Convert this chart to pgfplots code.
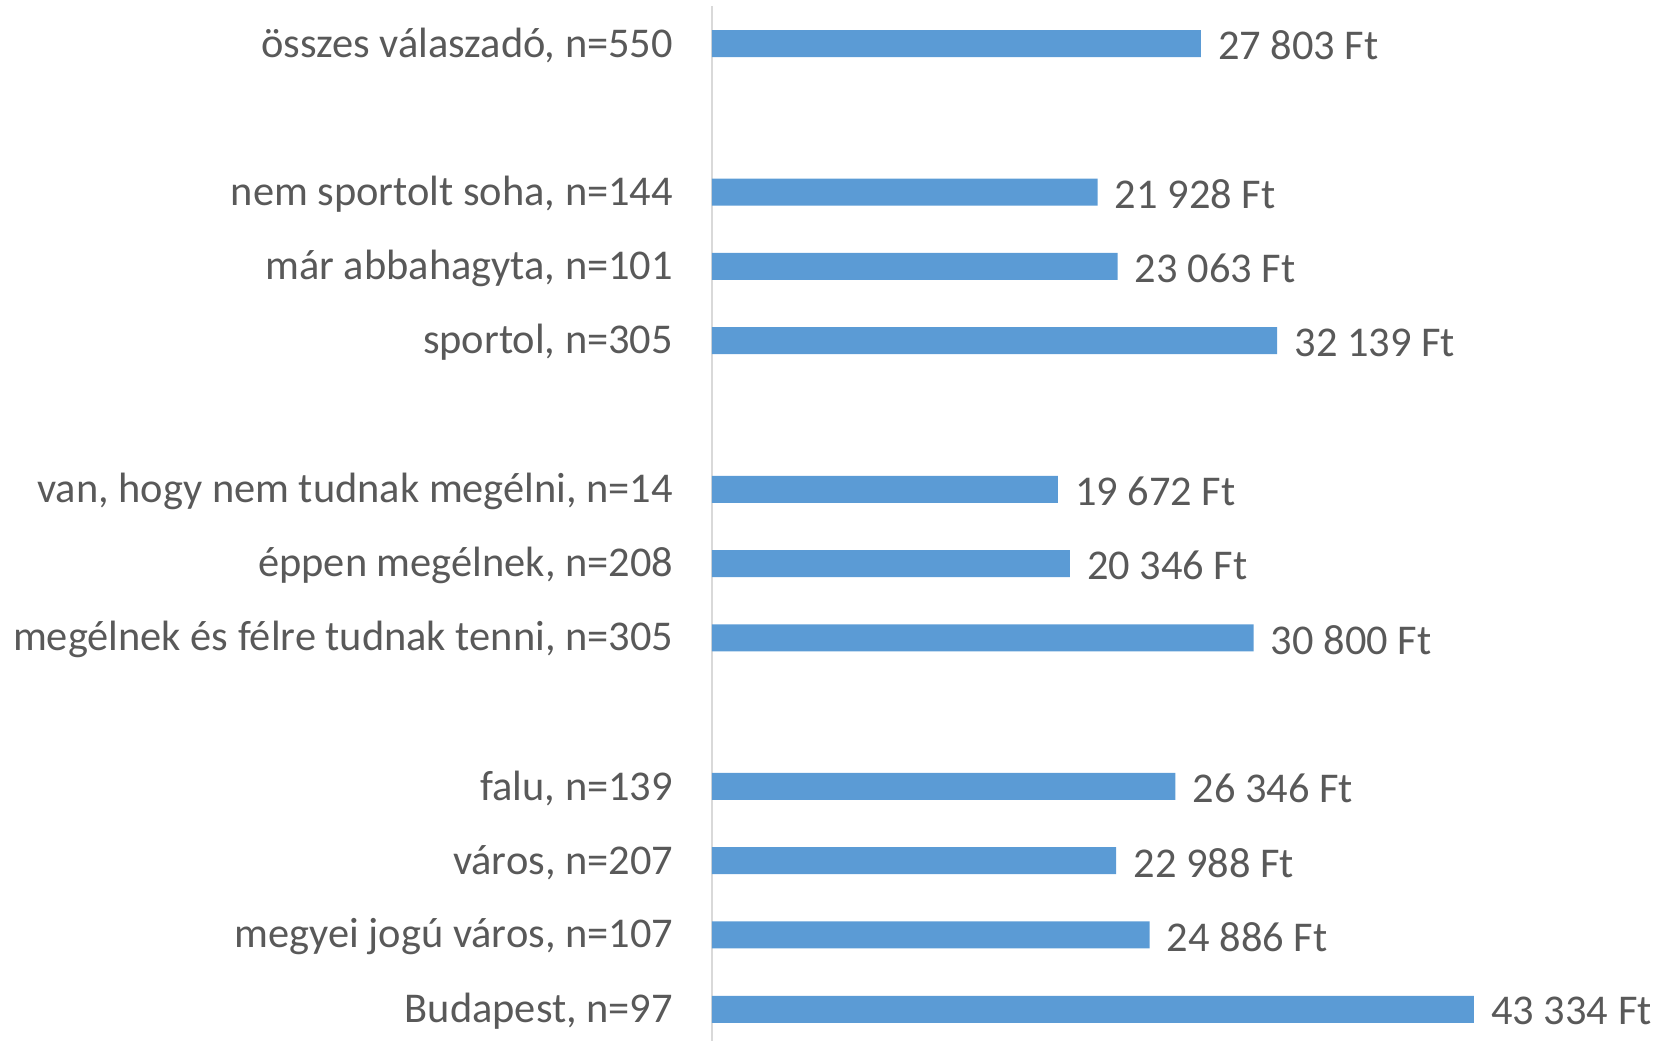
\documentclass[border=0pt]{standalone}
\usepackage{pgfplots}
\pgfplotsset{compat=1.18}
\usepackage{fontspec}
\setmainfont{Carlito}
\definecolor{barblue}{HTML}{5B9BD5}
\definecolor{txtgray}{HTML}{595959}
\definecolor{axgray}{HTML}{D9D9D9}

\begin{document}
\begin{tikzpicture}
\begin{axis}[
    at={(0,0)}, anchor=south west,
    scale only axis,
    width=400pt, height=520pt,
    xbar, bar width=13.5pt,
    xmin=0, xmax=45495,
    ymin=-0.5, ymax=13.5, y dir=reverse,
    hide x axis,
    axis y line*=left,
    y axis line style={draw=axgray, line width=1pt, -},
    ytick={0,2,3,4,6,7,8,10,11,12,13},
    yticklabels={
        összes válaszadó{,} n=550,
        nem sportolt soha{,} n=144,
        már abbahagyta{,} n=101,
        sportol{,} n=305,
        van{,} hogy nem tudnak megélni{,} n=14,
        éppen megélnek{,} n=208,
        megélnek és félre tudnak tenni{,} n=305,
        falu{,} n=139,
        város{,} n=207,
        megyei jogú város{,} n=107,
        Budapest{,} n=97},
    major tick length=0pt,
    yticklabel style={font=\fontsize{21.2}{25}\selectfont, text=txtgray, inner sep=0pt, xshift=-19.3pt, yshift=-1pt},
    point meta=x,
    nodes near coords={\pgfmathprintnumber{\pgfplotspointmeta}~Ft},
    nodes near coords style={anchor=west, inner sep=0pt, xshift=8.5pt, yshift=-1pt, text=txtgray, font=\fontsize{21.2}{25}\selectfont},
    /pgf/number format/fixed,
    /pgf/number format/precision=0,
    /pgf/number format/1000 sep={\ },
    /pgf/number format/assume math mode=true,
    clip=false,
]
% átlagos havi költés, Ft
\addplot[fill=barblue, draw=none] coordinates {
    (27803,0)
    (21928,2) (23063,3) (32139,4)
    (19672,6) (20346,7) (30800,8)
    (26346,10) (22988,11) (24886,12) (43334,13)
};
\end{axis}
\pgfresetboundingbox
\path[use as bounding box] (-356pt,3.2pt) rectangle (479.5pt,523.2pt);
\end{tikzpicture}
\end{document}
